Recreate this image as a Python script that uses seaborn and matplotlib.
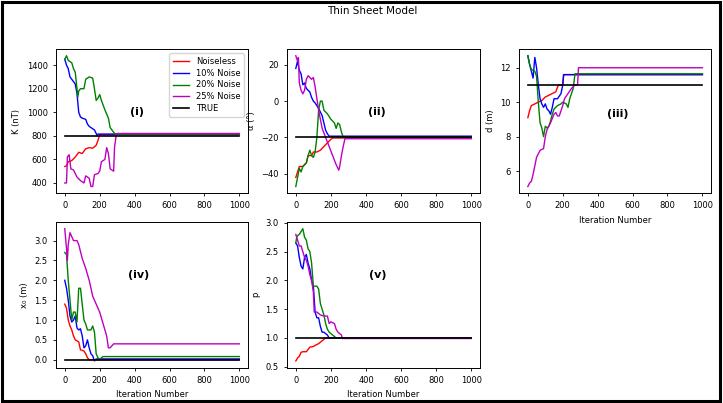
import matplotlib
matplotlib.use("Agg")
import matplotlib.pyplot as plt
import seaborn as sns
import pandas as pd
from matplotlib.patches import Rectangle

# (iteration, value) pairs
SERIES = ["Noiseless", "10% Noise", "20% Noise", "25% Noise"]
COLORS = ["r", "b", "g", "m"]

# (i) K (nT)
K_RED = [(0, 540), (10, 545), (20, 580), (40, 590), (60, 620), (80, 660), (100, 650), (120, 690),
         (140, 700), (160, 695), (180, 720), (190, 760), (200, 810), (1000, 810)]
K_BLUE = [(0, 1450), (10, 1400), (20, 1370), (30, 1300), (40, 1280), (50, 1260), (60, 1240), (70, 1160),
          (80, 1000), (90, 960), (100, 950), (120, 940), (130, 900), (140, 880), (160, 860), (170, 850),
          (180, 820), (185, 800), (190, 815), (1000, 815)]
K_GREEN = [(0, 1450), (10, 1480), (20, 1440), (30, 1430), (40, 1420), (50, 1370), (60, 1340), (70, 1200),
           (75, 1130), (80, 1180), (90, 1200), (110, 1200), (120, 1280), (140, 1300), (160, 1290), (170, 1200),
           (180, 1100), (190, 1120), (200, 1150), (210, 1100), (220, 1060), (230, 1020), (250, 950),
           (260, 870), (280, 830), (290, 815), (1000, 815)]
K_PURPLE = [(0, 400), (10, 400), (15, 620), (25, 640), (35, 520), (50, 510), (70, 450), (90, 420),
            (110, 400), (120, 460), (140, 440), (150, 370), (160, 370), (170, 470), (190, 480), (200, 500),
            (210, 580), (230, 600), (240, 700), (250, 650), (260, 520), (280, 500), (285, 700), (295, 810),
            (300, 820), (1000, 820)]
K_TRUE = 800

# (ii) alpha (deg)
A_RED = [(0, -42), (20, -36), (40, -36), (60, -34), (70, -30), (90, -30), (100, -28), (120, -28),
         (140, -27), (160, -25), (180, -23), (200, -21), (210, -20.3), (1000, -20.3)]
A_BLUE = [(0, 18), (10, 22), (20, 17), (30, 15), (40, 9), (50, 10), (60, 7), (80, 5), (90, 2), (100, 0),
          (110, -1), (130, -4), (150, -8), (160, -12), (170, -16), (180, -18), (190, -19.3), (1000, -19.3)]
A_GREEN = [(0, -47), (10, -42), (20, -37), (30, -39), (40, -36), (60, -34), (70, -30), (80, -27),
           (90, -30), (100, -31), (110, -28), (120, -20), (130, -5), (140, 0), (150, 0), (160, -5),
           (180, -7), (200, -10), (220, -12), (230, -15), (240, -12), (250, -13), (260, -17),
           (270, -19.8), (1000, -19.8)]
A_PURPLE = [(0, 25), (10, 22), (15, 24), (20, 10), (30, 6), (40, 4), (50, 6), (60, 12), (70, 14),
            (90, 12), (100, 13), (110, 8), (130, -5), (150, -15), (170, -20), (190, -25), (210, -30),
            (230, -35), (245, -38), (250, -36), (260, -30), (270, -25), (280, -20.7), (1000, -20.7)]
A_TRUE = -20
A_TICKS = [-40, -20, 0, 20]

# (iii) d (m)
D_RED = [(0, 9.1), (10, 9.5), (20, 9.8), (40, 9.9), (60, 10.0), (80, 10.1), (100, 10.3), (120, 10.4),
         (140, 10.5), (160, 10.6), (175, 11.0), (200, 11.0), (205, 11.6), (1000, 11.6)]
D_BLUE = [(0, 12.7), (10, 12.2), (20, 11.8), (30, 11.4), (40, 12.6), (50, 12.0), (60, 11.0), (70, 10.2),
          (80, 9.9), (90, 9.7), (100, 9.9), (110, 9.6), (120, 9.5), (130, 9.3), (140, 9.7), (150, 10.2),
          (170, 10.2), (190, 10.5), (200, 11.0), (205, 11.6), (1000, 11.6)]
D_GREEN = [(0, 12.7), (10, 12.2), (20, 11.9), (40, 11.8), (50, 11.5), (60, 10.0), (70, 8.8), (80, 8.5),
           (90, 8.0), (100, 8.6), (110, 8.5), (120, 8.6), (130, 8.9), (140, 9.3), (150, 9.6), (170, 9.8),
           (190, 9.9), (200, 10.0), (220, 9.9), (230, 9.7), (240, 10.2), (260, 10.8), (270, 11.65),
           (1000, 11.65)]
D_PURPLE = [(0, 5.1), (10, 5.3), (20, 5.4), (30, 5.8), (40, 6.3), (50, 6.8), (60, 7.0), (70, 7.2),
            (90, 7.3), (100, 8.0), (110, 8.4), (120, 8.6), (130, 8.8), (150, 9.3), (160, 9.4), (170, 9.2),
            (180, 9.2), (190, 9.5), (200, 9.8), (210, 10.2), (230, 10.5), (250, 10.8), (270, 11.0),
            (285, 11.0), (290, 12.0), (1000, 12.0)]
D_TRUE = 11

# (iv) x0 (m)
X_RED = [(0, 1.4), (10, 1.3), (20, 1.0), (30, 0.85), (40, 0.75), (50, 0.6), (60, 0.5), (80, 0.45),
         (90, 0.25), (110, 0.22), (120, 0.15), (130, 0.05), (140, 0.0), (1000, 0.0)]
X_BLUE = [(0, 2.0), (10, 1.8), (20, 1.5), (30, 1.1), (40, 0.95), (50, 1.0), (60, 1.1), (70, 0.8),
          (80, 0.75), (90, 0.78), (100, 0.6), (110, 0.3), (120, 0.35), (130, 0.5), (140, 0.3), (150, 0.15),
          (160, 0.1), (170, -0.03), (180, 0.02), (1000, 0.02)]
X_GREEN = [(0, 2.7), (10, 2.65), (20, 2.0), (30, 1.5), (40, 1.0), (50, 1.2), (60, 1.2), (70, 0.95),
           (80, 1.8), (90, 1.8), (100, 1.4), (110, 1.0), (120, 0.9), (130, 0.75), (150, 0.75), (160, 0.85),
           (170, 0.7), (180, 0.15), (190, 0.05), (200, 0.0), (210, 0.05), (220, 0.08), (1000, 0.08)]
X_PURPLE = [(0, 3.3), (10, 2.8), (15, 2.5), (20, 2.9), (30, 3.2), (40, 3.1), (50, 3.0), (70, 3.0),
            (80, 2.9), (100, 2.55), (120, 2.3), (140, 2.0), (160, 1.6), (180, 1.4), (200, 1.2), (220, 0.9),
            (240, 0.6), (250, 0.3), (260, 0.3), (270, 0.35), (280, 0.4), (1000, 0.4)]
X_TRUE = 0

# (v) p
P_RED = [(0, 0.6), (10, 0.65), (20, 0.68), (30, 0.75), (40, 0.76), (60, 0.76), (70, 0.8), (80, 0.84),
         (100, 0.85), (110, 0.87), (130, 0.9), (150, 0.95), (170, 1.0), (1000, 1.0)]
P_BLUE = [(0, 2.65), (10, 2.6), (20, 2.4), (30, 2.25), (40, 2.2), (50, 2.4), (60, 2.45), (70, 2.3),
          (80, 2.2), (90, 2.0), (100, 1.9), (110, 1.45), (120, 1.35), (130, 1.35), (140, 1.2), (150, 1.1),
          (160, 1.1), (180, 1.05), (190, 1.0), (1000, 1.0)]
P_GREEN = [(0, 2.65), (5, 2.75), (10, 2.78), (20, 2.8), (30, 2.85), (40, 2.9), (50, 2.75), (60, 2.7),
           (70, 2.55), (80, 2.5), (90, 2.3), (100, 1.9), (120, 1.9), (130, 1.85), (140, 1.6), (150, 1.5),
           (160, 1.4), (170, 1.25), (180, 1.15), (190, 1.1), (210, 1.05), (230, 1.0), (1000, 1.0)]
P_PURPLE = [(0, 2.8), (10, 2.7), (20, 2.6), (30, 2.6), (40, 2.5), (50, 2.4), (60, 2.35), (70, 2.25),
            (80, 2.1), (90, 2.0), (100, 1.8), (105, 1.45), (120, 1.45), (140, 1.4), (160, 1.38), (180, 1.38),
            (190, 1.25), (200, 1.28), (220, 1.25), (230, 1.15), (240, 1.1), (260, 1.05), (265, 0.99),
            (1000, 0.99)]
P_TRUE = 1

panels = [
    {"data": [K_RED, K_BLUE, K_GREEN, K_PURPLE], "true": K_TRUE, "ylabel": "K (nT)", "tag": "(i)",
     "pos": [0.0775, 0.521, 0.2656, 0.357], "tagpos": (0.42, 0.56), "xlabel": ""},
    {"data": [A_RED, A_BLUE, A_GREEN, A_PURPLE], "true": A_TRUE, "ylabel": "α (°)", "tag": "(ii)",
     "pos": [0.397, 0.521, 0.267, 0.357], "tagpos": (0.465, 0.56), "xlabel": "", "yticks": A_TICKS},
    {"data": [D_RED, D_BLUE, D_GREEN, D_PURPLE], "true": D_TRUE, "ylabel": "d (m)", "tag": "(iii)",
     "pos": [0.718, 0.521, 0.2656, 0.357], "tagpos": (0.516, 0.55), "xlabel": "Iteration Number"},
    {"data": [X_RED, X_BLUE, X_GREEN, X_PURPLE], "true": X_TRUE, "ylabel": "x₀ (m)", "tag": "(iv)",
     "pos": [0.0775, 0.088, 0.2656, 0.361], "tagpos": (0.43, 0.634), "xlabel": "Iteration Number"},
    {"data": [P_RED, P_BLUE, P_GREEN, P_PURPLE], "true": P_TRUE, "ylabel": "p", "tag": "(v)",
     "pos": [0.397, 0.088, 0.267, 0.361], "tagpos": (0.47, 0.635), "xlabel": "Iteration Number"},
]

fig = plt.figure(figsize=(7.23, 4.03), dpi=100)
fig.text(0.515, 0.972, "Thin Sheet Model", ha="center", va="center", fontsize=7.5)

for p in panels:
    ax = fig.add_axes(p["pos"])
    for pts, name, c in zip(p["data"], SERIES, COLORS):
        df = pd.DataFrame(pts, columns=["it", "val"])
        sns.lineplot(data=df, x="it", y="val", ax=ax, color=c, lw=1.0, label=name,
                     estimator=None, sort=False)
    sns.lineplot(x=[0, 1000], y=[p["true"], p["true"]], ax=ax, color="k", lw=1.2, label="TRUE")
    ax.set_xticks([0, 200, 400, 600, 800, 1000])
    if "yticks" in p:
        ax.set_yticks(p["yticks"])
    ax.set_xlabel(p["xlabel"], fontsize=6)
    ax.set_ylabel(p["ylabel"], fontsize=6)
    ax.tick_params(labelsize=6, length=2.5, width=0.6)
    for s in ax.spines.values():
        s.set_linewidth(0.7)
    ax.text(p["tagpos"][0], p["tagpos"][1], p["tag"], transform=ax.transAxes, ha="center",
            va="center", fontsize=8, fontweight="bold")
    if p["tag"] == "(i)":
        ax.legend(loc="upper right", fontsize=6, handlelength=2.0, borderpad=0.4, labelspacing=0.35)
    else:
        ax.get_legend().remove()

# black frame round the whole picture
fig.add_artist(Rectangle((1.5 / 723, 2.5 / 403), 718 / 723, 398.5 / 403, transform=fig.transFigure,
                         fill=False, edgecolor="black", lw=2.2))

fig.savefig("out.png", dpi=100)
